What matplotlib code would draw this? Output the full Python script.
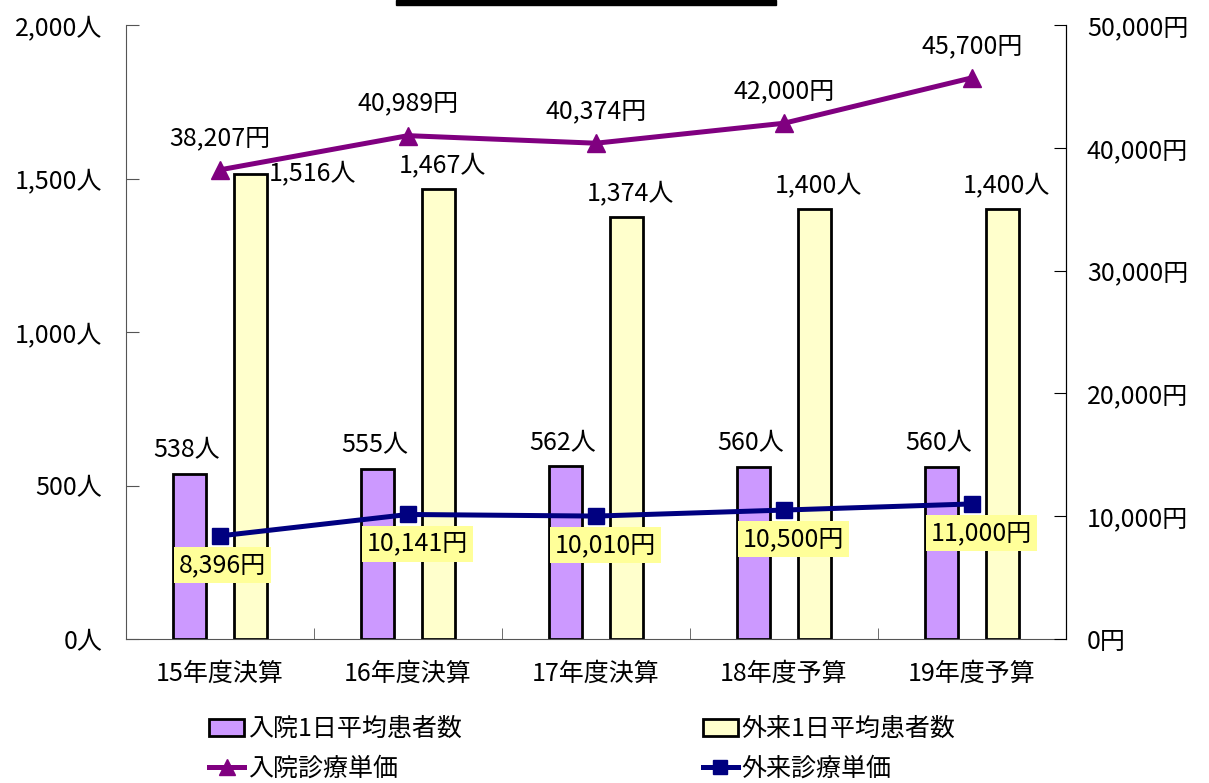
import matplotlib
matplotlib.use("Agg")
import matplotlib.pyplot as plt
import numpy as np
from matplotlib.patches import Rectangle, Patch
from matplotlib.lines import Line2D
from matplotlib.ticker import FuncFormatter

plt.rcParams['font.family'] = ['Noto Sans CJK JP', 'DejaVu Sans']

categories = ["15年度決算", "16年度決算", "17年度決算", "18年度予算", "19年度予算"]
inpatient_daily = [538, 555, 562, 560, 560]
outpatient_daily = [1516, 1467, 1374, 1400, 1400]
inpatient_price = [38207, 40989, 40374, 42000, 45700]
outpatient_price = [8396, 10141, 10010, 10500, 11000]
legend_labels = ["入院1日平均患者数", "外来1日平均患者数", "入院診療単価", "外来診療単価"]

FS = 18
fig = plt.figure(figsize=(12.09, 7.83), dpi=100)
ax = fig.add_axes([126/1209, 1-639/783, (1066-126)/1209, (639-25)/783])
ax2 = ax.twinx()

x = np.arange(len(categories))
bw = 0.175
off = 0.162
ax.bar(x - off, inpatient_daily, bw, color="#CC99FF", edgecolor="black", linewidth=2, zorder=2)
ax.bar(x + off, outpatient_daily, bw, color="#FFFFCC", edgecolor="black", linewidth=2, zorder=2)

ax.set_xlim(-0.5, len(categories) - 0.5)
ax.set_ylim(0, 2000)
ax.set_yticks([0, 500, 1000, 1500, 2000])
ax.yaxis.set_major_formatter(FuncFormatter(lambda v, p: f"{int(v):,}人"))
ax.set_xticks(x)
ax.set_xticklabels(categories, fontsize=FS)
ax.set_xticks(np.arange(len(categories) + 1) - 0.5, minor=True)
ax.tick_params(axis='x', which='major', length=0, pad=16)
ax.tick_params(axis='x', which='minor', length=8, direction='in', color='#555555')
ax.tick_params(axis='y', labelsize=FS, direction='in', length=9, pad=17, color='#555555')

ax2.set_ylim(0, 50000)
ax2.set_yticks([0, 10000, 20000, 30000, 40000, 50000])
ax2.yaxis.set_major_formatter(FuncFormatter(lambda v, p: f"{int(v):,}円"))
ax2.tick_params(axis='y', labelsize=FS, direction='in', length=9, pad=15)

for a in (ax, ax2):
    a.spines['top'].set_visible(False)
ax.spines['left'].set_color('#555555')
ax.spines['bottom'].set_color('#555555')
ax2.spines['left'].set_visible(False)
ax2.spines['bottom'].set_visible(False)
ax2.spines['right'].set_color('black')

ax2.plot(x, inpatient_price, color="#800080", lw=3.6, marker="^", ms=13, zorder=5)
ax2.plot(x, outpatient_price, color="#000080", lw=3.6, marker="s", ms=12, zorder=5)
ax.set_zorder(1); ax2.set_zorder(2); ax2.patch.set_visible(False)

# bar labels
for i, v in enumerate(inpatient_daily):
    ax.annotate(f"{v:,}人", (x[i] - off, v), xytext=(-2, 17), textcoords="offset points",
                ha="center", va="center", fontsize=FS)
for i, v in enumerate(outpatient_daily):
    if i == 0:
        ax.annotate(f"{v:,}人", (x[i] + off, v), xytext=(45, 0), textcoords="offset points",
                    ha="center", va="center", fontsize=FS)
    else:
        ax.annotate(f"{v:,}人", (x[i] + off, v), xytext=(3, 17), textcoords="offset points",
                    ha="center", va="center", fontsize=FS)
for i, v in enumerate(inpatient_price):
    ax2.annotate(f"{v:,}円", (x[i], v), xytext=(0, 23), textcoords="offset points",
                 ha="center", va="center", fontsize=FS, zorder=6)
for i, v in enumerate(outpatient_price):
    dx = 2 if i == 0 else 7
    ax2.annotate(f"{v:,}円", (x[i], v), xytext=(dx, -21), textcoords="offset points",
                 ha="center", va="center", fontsize=FS, zorder=6,
                 bbox=dict(boxstyle="square,pad=0.2", fc="#FFFF99", ec="none"))

handles = [
    Patch(facecolor="#CC99FF", edgecolor="black", linewidth=2),
    Line2D([], [], color="#800080", lw=3.6, marker="^", ms=11),
    Patch(facecolor="#FFFFCC", edgecolor="black", linewidth=2),
    Line2D([], [], color="#000080", lw=3.6, marker="s", ms=10),
]
labels = [legend_labels[0], legend_labels[2], legend_labels[1], legend_labels[3]]
fig.legend(handles, labels, loc="upper left", bbox_to_anchor=(209/1209, 1-716/783),
           ncol=2, frameon=False, fontsize=FS, handlelength=1.4, handletextpad=0.15,
           columnspacing=9.65, labelspacing=0.55, borderpad=0, borderaxespad=0)

fig.add_artist(Rectangle((396/1209, 1-5/783), (776-396)/1209, 5/783,
                         transform=fig.transFigure, color="black"))

fig.savefig("out.png", dpi=100)
